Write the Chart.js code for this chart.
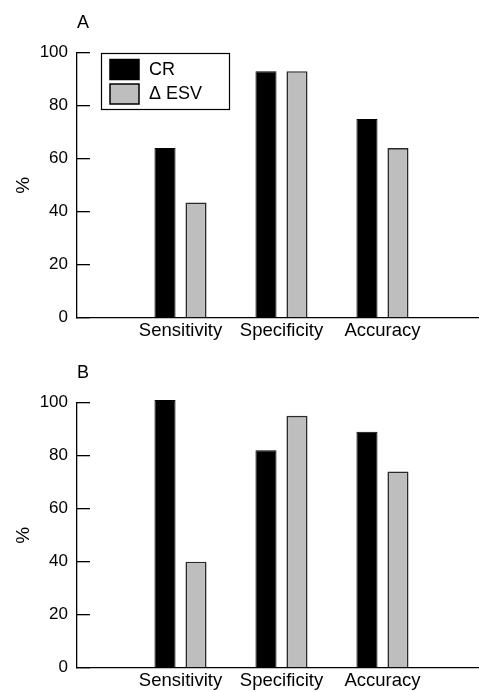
<!DOCTYPE html>
<html>
<head>
<meta charset="utf-8">
<script src="https://cdn.jsdelivr.net/npm/chart.js@4/dist/chart.umd.min.js"></script>
<style>
  html, body { margin: 0; padding: 0; background: #fff; overflow: hidden; width: 479px; height: 692px; position: relative; }
  .panel { position: absolute; left: 0; width: 488px; height: 350px; }
  #panelA { top: 0; }
  #panelB { top: 350px; }
</style>
</head>
<body>
<div class="panel" id="panelA"><canvas id="chartA" width="488" height="350"></canvas></div>
<div class="panel" id="panelB"><canvas id="chartB" width="488" height="350"></canvas></div>
<script>
// 数据
const categories = ['Sensitivity', 'Specificity', 'Accuracy'];
const seriesNames = ['CR', 'Δ ESV'];
const yTicks = [0, 20, 40, 60, 80, 100];

const crA = [64, 93, 75];
const esvA = [43.5, 93, 64];
const crB = [101, 82, 89];
const esvB = [40, 95, 74];

const FONT = "'Liberation Sans', Arial, Helvetica, sans-serif";

// 图例（带边框的方框）
const boxLegend = {
  id: 'boxLegend',
  afterDraw(chart, args, opts) {
    if (!opts.show) return;
    const { ctx, chartArea } = chart;
    const x = Math.round(chartArea.left + 24), y = Math.round(chartArea.top);
    ctx.save();
    ctx.strokeStyle = '#000';
    ctx.lineWidth = 1.2;
    ctx.strokeRect(x + 0.5, y + 0.5, 128, 56);
    chart.data.datasets.forEach((ds, i) => {
      const sy = y + 6.5 + i * 24.5;
      ctx.fillStyle = ds.backgroundColor;
      ctx.fillRect(x + 9, sy, 29, 20);
      ctx.lineWidth = 1.5;
      ctx.strokeStyle = '#000';
      ctx.strokeRect(x + 9, sy, 29, 20);
      ctx.fillStyle = '#000';
      ctx.font = '18px ' + FONT;
      ctx.textBaseline = 'middle';
      ctx.textAlign = 'left';
      ctx.fillText(ds.label, x + 48, sy + 10.5);
    });
    ctx.restore();
  }
};

function pts(vals) {
  return vals.map((v, i) => ({ x: i + 1, y: v }));
}

function makePanel(id, letter, cr, esv, showLegend) {
  const ctx = document.getElementById(id).getContext('2d');
  return new Chart(ctx, {
    type: 'bar',
    data: {
      datasets: [
        { label: seriesNames[0], data: pts(cr), backgroundColor: '#000000', borderColor: '#000000', borderWidth: 1, clip: false },
        { label: seriesNames[1], data: pts(esv), backgroundColor: '#bebebe', borderColor: '#2a2a2a', borderWidth: 1.6, clip: false }
      ]
    },
    options: {
      responsive: false,
      animation: false,
      devicePixelRatio: 1,
      categoryPercentage: 0.614,
      barPercentage: 0.68,
      layout: { padding: 0, autoPadding: false },
      plugins: {
        legend: { display: false },
        tooltip: { enabled: false },
        title: {
          display: true, text: letter, align: 'start', fullSize: false, color: '#000',
          font: { family: FONT, size: 18, weight: 'normal' },
          padding: { top: 12, bottom: 19 }
        },
        boxLegend: { show: showLegend }
      },
      scales: {
        x: {
          type: 'linear', offset: false, min: -0.025, max: 4.045,
          afterBuildTicks: s => { s.ticks = categories.map((c, i) => ({ value: i + 1 })); },
          grid: { display: false, drawTicks: false },
          border: { display: true, color: '#000', width: 1.3 },
          ticks: {
            autoSkip: false, maxRotation: 0, color: '#000', padding: 2,
            font: { family: FONT, size: 18.5 },
            callback: v => categories[v - 1]
          },
          afterFit: s => { s.height = 27; }
        },
        y: {
          min: 0, max: 100,
          afterBuildTicks: s => { s.ticks = yTicks.map(v => ({ value: v })); },
          grid: { drawOnChartArea: false, drawTicks: true, tickLength: -13, color: '#000', lineWidth: 1.3 },
          border: { display: true, color: '#000', width: 1.3 },
          ticks: { color: '#000', padding: 22, font: { family: FONT, size: 17 } },
          title: {
            display: true, text: '%', color: '#000',
            font: { family: FONT, size: 19 },
            padding: { top: 12, bottom: 0 }
          },
          afterFit: s => { s.width = 77; }
        }
      }
    },
    plugins: [boxLegend]
  });
}

makePanel('chartA', 'A', crA, esvA, true);
makePanel('chartB', 'B', crB, esvB, false);
</script>
</body>
</html>
